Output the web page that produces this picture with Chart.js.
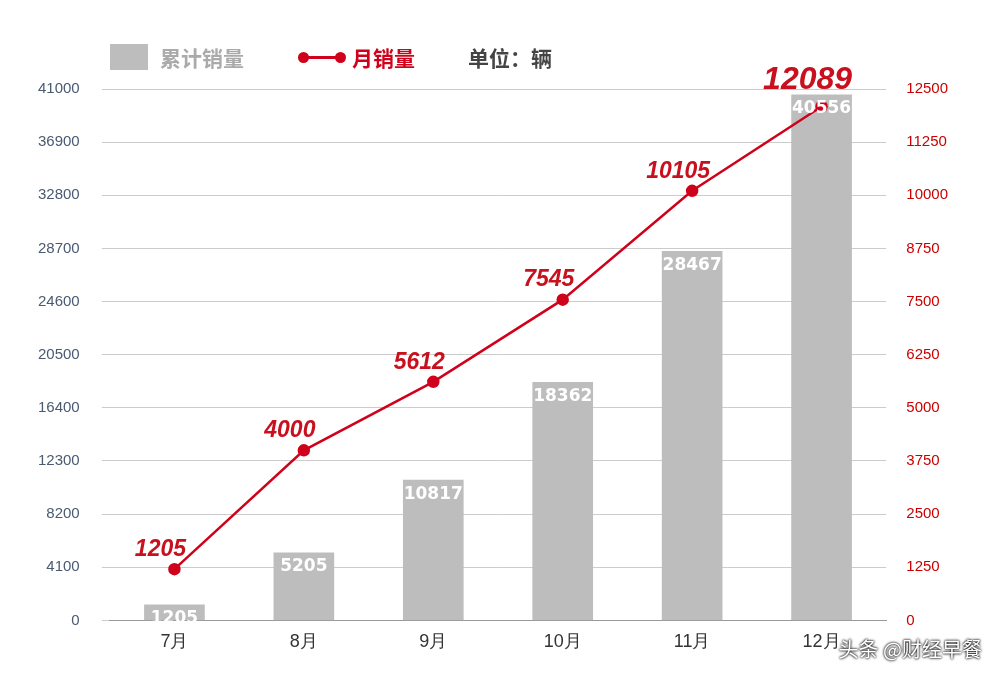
<!DOCTYPE html>
<html><head><meta charset="utf-8">
<script src="https://cdn.jsdelivr.net/npm/chart.js@4"></script>
<style>
body{margin:0;background:#fff;font-family:"Noto Sans CJK SC","Noto Sans",sans-serif;}
#wrap{position:relative;width:1000px;height:681px;}
.lg{position:absolute;top:42px;font-size:21px;font-weight:bold;display:flex;align-items:center;}
#wm{position:absolute;right:18px;bottom:18px;font-size:20px;color:#fff;text-shadow:0 0 3px #000,0 0 2px #000;}
</style></head><body>
<div id="wrap">
<canvas id="c" width="1000" height="681"></canvas>
<div class="lg" style="left:110px;color:#aaa"><span style="display:inline-block;width:38px;height:26px;background:#bdbdbd;margin-right:12px"></span>累计销量</div>
<div class="lg" style="left:302px;color:#d0021b"><span style="position:relative;display:inline-block;width:40px;height:3px;background:#d0021b;margin-right:10px"><i style="position:absolute;left:-4px;top:-4px;width:11px;height:11px;border-radius:50%;background:#d0021b"></i><i style="position:absolute;right:-4px;top:-4px;width:11px;height:11px;border-radius:50%;background:#d0021b"></i></span>月销量</div>
<div class="lg" style="left:468px;color:#444">单位：辆</div>
<div id="wm">头条 @财经早餐</div>
</div>
<script>
const months = ['7月', '8月', '9月', '10月', '11月', '12月'];
const cumulative = [1205, 5205, 10817, 18362, 28467, 40556];
const monthly = [1205, 4000, 5612, 7545, 10105, 12089];

const labelPlugin = {
    id: 'labels',
    afterDatasetsDraw(chart) {
        const ctx = chart.ctx;
        ctx.save();
        ctx.textAlign = 'center';
        // 柱内白色数字
        chart.getDatasetMeta(0).data.forEach(function(bar, i) {
            ctx.fillStyle = '#fff';
            ctx.font = 'bold 17px "DejaVu Sans", sans-serif';
            ctx.textBaseline = 'middle';
            ctx.fillText(cumulative[i], bar.x, bar.y + 14);
        });
        // 折线红色数字
        chart.getDatasetMeta(1).data.forEach(function(pt, i) {
            ctx.fillStyle = '#c8101e';
            const last = i === monthly.length - 1;
            ctx.font = 'italic bold ' + (last ? 32 : 23) + 'px "Liberation Sans", sans-serif';
            ctx.textBaseline = 'bottom';
            ctx.fillText(monthly[i], pt.x - 14, pt.y - (last ? 10 : 8));
        });
        ctx.restore();
    }
};

new Chart(document.getElementById('c').getContext('2d'), {
    data: {
        labels: months,
        datasets: [{
            type: 'bar',
            data: cumulative,
            backgroundColor: '#bdbdbd',
            barThickness: 60,
            yAxisID: 'y',
            order: 2
        }, {
            type: 'line',
            data: monthly,
            borderColor: '#d0021b',
            backgroundColor: '#d0021b',
            borderWidth: 2.5,
            pointRadius: 5,
            yAxisID: 'y1',
            order: 1
        }]
    },
    options: {
        responsive: false,
        animation: false,
        layout: { padding: { top: 89, left: 16, right: 40, bottom: 25 } },
        plugins: { legend: { display: false }, tooltip: { enabled: false } },
        scales: {
            x: {
                grid: { display: false },
                border: { color: '#999' },
                ticks: { color: '#333', font: { size: 18 } }
            },
            y: {
                min: 0, max: 41000,
                ticks: { stepSize: 4100, color: '#4a5a70', font: { size: 15 }, padding: 22, callback: v => String(v) },
                grid: { color: '#ccc' },
                border: { display: false }
            },
            y1: {
                position: 'right',
                min: 0, max: 12500,
                ticks: { stepSize: 1250, color: '#c00', font: { size: 15 }, padding: 12, callback: v => String(v) },
                grid: { display: false },
                border: { display: false }
            }
        }
    },
    plugins: [labelPlugin]
});
</script>
</body></html>
